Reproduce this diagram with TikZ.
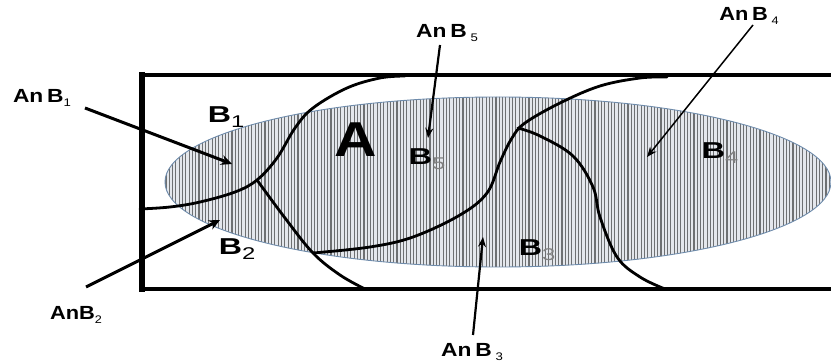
\documentclass[tikz,border=0pt]{standalone}
\usepackage{graphicx}
\usepackage{fontspec}
\setmainfont{Liberation Sans}
\usetikzlibrary{arrows.meta}

\definecolor{areafill}{HTML}{E4E7EC}
\definecolor{areastripe}{HTML}{6E7072}
\definecolor{areaedge}{HTML}{6F8CAC}

\newcommand{\wide}[2]{\scalebox{#1}[1]{#2}}
\newcommand{\lowsub}[1]{\raisebox{-0.4ex}{\fontsize{11}{11}\selectfont\mdseries #1}}
\newcommand{\regsub}[1]{\raisebox{-0.45ex}{\fontsize{17}{17}\selectfont\mdseries #1}}

\tikzset{
  lbl/.style={font=\fontsize{19}{19}\selectfont\bfseries, inner sep=0},
  region/.style={font=\fontsize{23}{23}\selectfont\bfseries, inner sep=0},
  border/.style={line width=4.5pt, line cap=rect},
  split/.style={line width=2.8pt, line cap=round},
  thick arrow/.style={-{Stealth[length=11pt,width=10pt]}, line width=3pt},
  thin arrow/.style={-{Stealth[length=10pt,width=8pt]}, line width=2.2pt},
}

\begin{document}
\begin{tikzpicture}[x=1pt, y=-1pt]
  \useasboundingbox (0,0) rectangle (831,363);

  % shaded set A
  \begin{scope}
    \clip (498,182) ellipse [x radius=333, y radius=85];
    \fill[areafill] (160,90) rectangle (835,275);
    \foreach \sx in {166,169.3,...,832}
      \draw[areastripe, line width=1.1pt] (\sx,90) -- (\sx,275);
  \end{scope}
  \draw[areaedge, line width=0.9pt] (498,182) ellipse [x radius=333, y radius=85];

  % universe frame (open to the right)
  \draw[border] (142,75) -- (831,75);
  \draw[border] (142,289) -- (831,289);
  \draw[line width=6.5pt] (142,72) -- (142,292);

  % partition curves
  \draw[split] plot[smooth, tension=0.6] coordinates {
    (140,209) (170,207) (200,202) (235,192) (257,180) (277,158) (295,128)
    (313,108) (347,88) (380,78) (405,76)};
  \draw[split] plot[smooth, tension=0.6] coordinates {
    (257,180) (285,218) (313,253) (340,275) (365,289)};
  \draw[split] plot[smooth, tension=0.6] coordinates {
    (313,253) (370,247) (413,237) (460,215) (487,193) (500,162) (512,138)
    (525,123) (560,103) (600,86) (640,78) (667,77)};
  \draw[split] plot[smooth, tension=0.6] coordinates {
    (518,128) (540,136) (573,156) (593,187) (600,217) (617,257) (640,277) (665,289)};

  % region names
  \node[font=\fontsize{49}{49}\selectfont\bfseries, inner sep=0] (setA) at (356,140) {\wide{1.2}{A}};
  \node[region] (b1) at (226,117) {\wide{1.4}{B\regsub{1}}};
  \node[region] (b2) at (237,249) {\wide{1.4}{B\regsub{2}}};
  \node[region] (b3) at (537,250) {\wide{1.4}{B\textcolor{gray}{\regsub{3}}}};
  \node[region] (b4) at (720,153) {\wide{1.4}{B\textcolor{gray}{\regsub{4}}}};
  \node[region] (b5) at (427,159) {\wide{1.4}{B\textcolor{gray}{\regsub{5}}}};

  % intersection labels
  \node[lbl] (anb1) at (42,98) {\wide{1.2}{An\,B\lowsub{1}}};
  \node[lbl] (anb2) at (76,315) {\wide{1.15}{AnB\lowsub{2}}};
  \node[lbl] (anb3) at (472,352) {\wide{1.2}{An\,B\,\lowsub{3}}};
  \node[lbl] (anb4) at (749,16) {\wide{1.15}{An\,B\,\lowsub{4}}};
  \node[lbl] (anb5) at (447,33) {\wide{1.2}{An\,B\,\lowsub{5}}};

  \coordinate (t1) at (85,108);   \coordinate (h1) at (232,164);
  \coordinate (t2) at (86,287);   \coordinate (h2) at (220,220);
  \coordinate (t3) at (473,335);  \coordinate (h3) at (483,237);
  \coordinate (t4) at (753,25);   \coordinate (h4) at (647,157);
  \coordinate (t5) at (440,45);   \coordinate (h5) at (428,138);

  \draw[thick arrow] (t1) -- (h1);
  \draw[thick arrow] (t2) -- (h2);
  \draw[thin arrow] (t3) -- (h3);
  \draw[thin arrow, line width=1.5pt] (t4) -- (h4);
  \draw[thin arrow] (t5) -- (h5);
\end{tikzpicture}
\end{document}
